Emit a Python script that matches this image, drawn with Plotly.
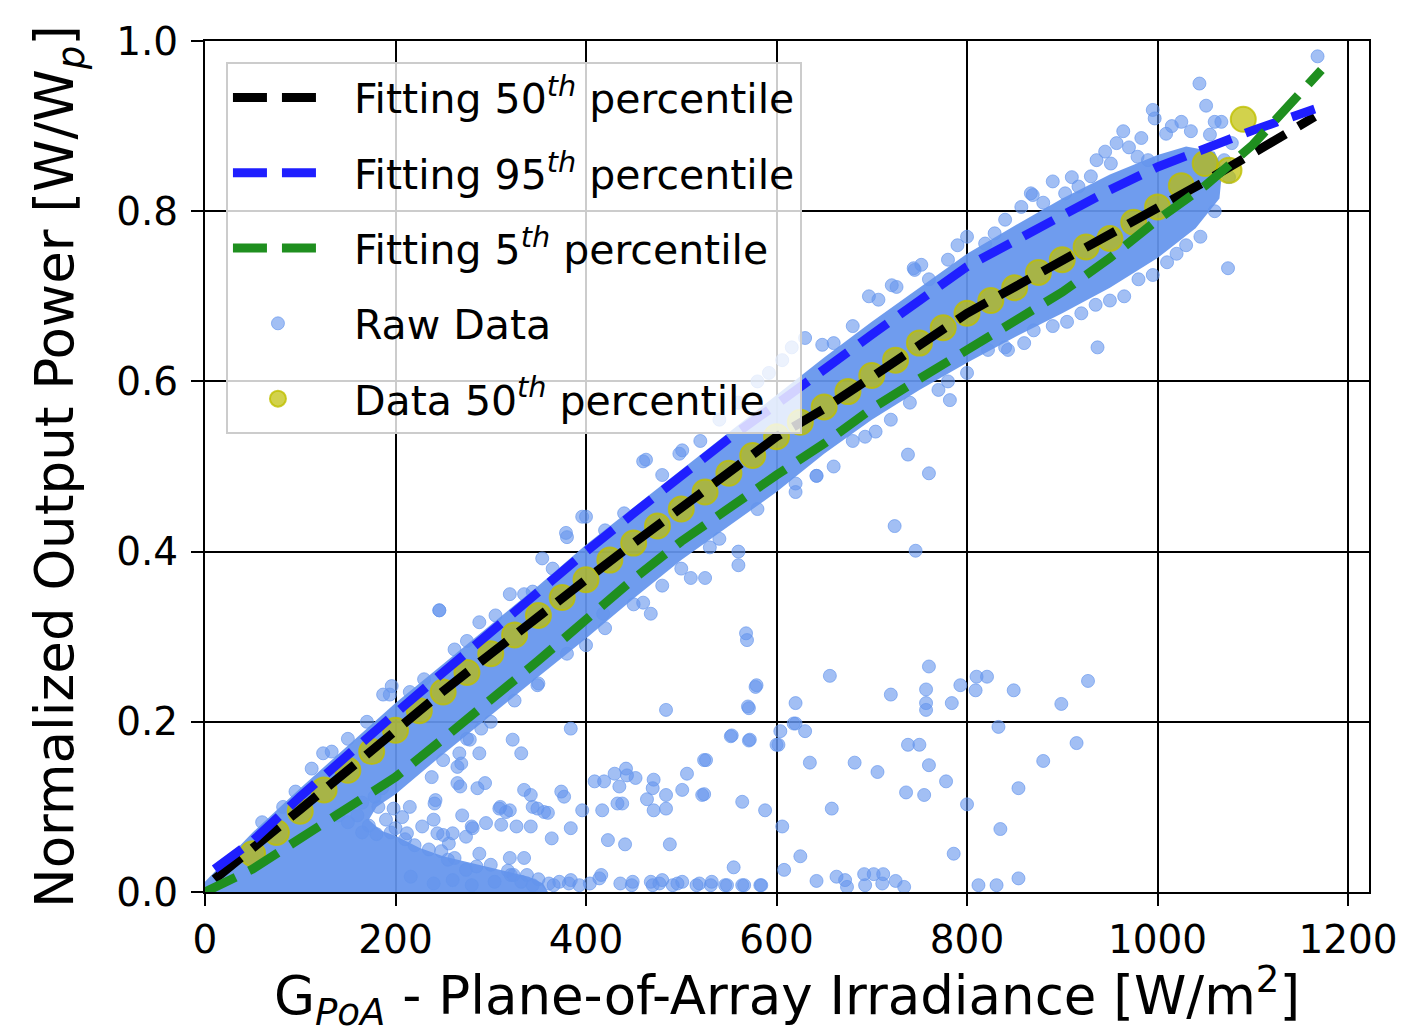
import plotly.graph_objects as go

# ---------------- data ----------------
# fitted curves
fit_x = [10, 50, 100, 150, 200, 250, 300, 350, 400, 450, 500, 550, 600, 650, 700, 750, 800,
         850, 900, 950, 1000, 1050, 1100, 1165]
fit50_y = [0.015, 0.05, 0.097, 0.143, 0.19, 0.236, 0.28, 0.325, 0.367, 0.41, 0.45, 0.493, 0.535,
           0.568, 0.605, 0.643, 0.68, 0.711, 0.742, 0.772, 0.802, 0.835, 0.868, 0.911]
fit95_y = [0.027, 0.06, 0.112, 0.162, 0.21, 0.258, 0.305, 0.355, 0.40, 0.445, 0.49, 0.533, 0.573,
           0.615, 0.655, 0.695, 0.735, 0.765, 0.795, 0.825, 0.852, 0.874, 0.895, 0.92]
fit5_x = [0, 50, 100, 150, 200, 250, 300, 350, 400, 450, 500, 550, 600, 650, 700, 750, 800,
          850, 900, 950, 1000, 1050, 1100, 1172]
fit5_y = [0.0, 0.027, 0.063, 0.098, 0.135, 0.18, 0.225, 0.272, 0.32, 0.368, 0.412, 0.452, 0.49,
          0.527, 0.568, 0.603, 0.637, 0.668, 0.705, 0.745, 0.79, 0.83, 0.878, 0.966]

# binned 50th percentile of the data
p50_x = [50, 75, 100, 125, 150, 175, 200, 225, 250, 275, 300, 325, 350, 375, 400, 425, 450, 475,
         500, 525, 550, 575, 600, 625, 650, 675, 700, 725, 750, 775, 800, 825, 850, 875, 900, 925,
         950, 975, 1000, 1025, 1050, 1075, 1090]
p50_y = [0.045, 0.07, 0.095, 0.12, 0.143, 0.165, 0.19, 0.213, 0.235, 0.258, 0.28, 0.302, 0.325,
         0.346, 0.367, 0.39, 0.41, 0.43, 0.45, 0.47, 0.492, 0.513, 0.535, 0.552, 0.57, 0.588, 0.607,
         0.625, 0.645, 0.663, 0.68, 0.695, 0.71, 0.728, 0.743, 0.758, 0.768, 0.787, 0.805, 0.83,
         0.856, 0.848, 0.908]

# dense core of the raw-data cloud (outline of the saturated area)
core_top_x = [0, 20, 50, 100, 150, 200, 250, 300, 350, 400, 450, 500, 550, 600, 650, 700, 750,
              800, 850, 900, 950, 1000, 1030, 1060, 1068]
core_top_y = [0.012, 0.035, 0.07, 0.122, 0.172, 0.222, 0.268, 0.314, 0.36, 0.408, 0.452, 0.497,
              0.54, 0.585, 0.628, 0.67, 0.71, 0.75, 0.783, 0.815, 0.843, 0.866, 0.876, 0.87, 0.85]
core_bot_x = [1065, 1040, 1000, 950, 900, 850, 800, 750, 700, 650, 600, 550, 500, 450, 400, 350,
              300, 250, 200, 180, 172, 185, 200, 225, 250, 280, 310, 340, 355, 360, 0]
core_bot_y = [0.815, 0.78, 0.745, 0.71, 0.68, 0.652, 0.622, 0.59, 0.555, 0.515, 0.47, 0.43, 0.39,
              0.345, 0.298, 0.253, 0.208, 0.162, 0.115, 0.1, 0.085, 0.072, 0.066, 0.052, 0.042,
              0.034, 0.026, 0.018, 0.01, 0.0, 0.0]

# individual raw points: upper fringe of the cloud
upper_x = [60, 82, 95, 112, 124, 133, 150, 170, 187, 194, 196, 215, 230, 246, 262, 275, 288, 305,
           320, 335, 344, 354, 365, 379, 380, 396, 400, 420, 440, 460, 463, 480, 498, 501, 520,
           540, 560, 580, 592, 606, 616, 630, 648, 660, 680, 697, 707, 721, 726, 744, 745, 752,
           760, 780, 790, 800, 819, 829, 840, 857, 867, 869, 880, 890, 903, 910, 917, 930, 936,
           945, 951, 957, 964, 970, 979, 983, 990, 995, 997, 1009, 1015, 1025, 1035, 1044, 1051,
           1055, 1060, 1067, 1078, 1168]
upper_y = [0.082, 0.10, 0.118, 0.145, 0.163, 0.165, 0.18, 0.2, 0.232, 0.232, 0.242, 0.235, 0.25,
           0.331, 0.285, 0.295, 0.317, 0.325, 0.35, 0.35, 0.353, 0.392, 0.38, 0.422, 0.417, 0.441,
           0.441, 0.425, 0.445, 0.506, 0.508, 0.49, 0.515, 0.519, 0.53, 0.555, 0.575, 0.60, 0.61,
           0.625, 0.64, 0.651, 0.643, 0.645, 0.665, 0.70, 0.696, 0.713, 0.711, 0.733, 0.731,
           0.737, 0.72, 0.743, 0.76, 0.77, 0.762, 0.774, 0.79, 0.805, 0.821, 0.819, 0.81, 0.835,
           0.821, 0.84, 0.829, 0.841, 0.86, 0.87, 0.856, 0.88, 0.894, 0.875, 0.864, 0.886, 0.86,
           0.919, 0.909, 0.891, 0.9, 0.905, 0.894, 0.95, 0.924, 0.89, 0.905, 0.905, 0.88, 0.982]

# lower fringe of the cloud
lower_x = [250, 275, 300, 325, 350, 380, 400, 420, 450, 460, 480, 500, 510, 525, 530, 540, 560,
           560, 580, 620, 620, 642, 660, 680, 693, 704, 720, 740, 770, 780, 800, 822, 840, 843,
           860, 870, 890, 905, 920, 935, 950, 965, 980, 995, 1010, 1020, 1030, 1045, 1060, 1075,
           1070]
lower_y = [0.155, 0.18, 0.2, 0.225, 0.245, 0.28, 0.29, 0.31, 0.338, 0.34, 0.36, 0.38, 0.369,
           0.369, 0.405, 0.415, 0.384, 0.40, 0.45, 0.47, 0.48, 0.489, 0.5, 0.53, 0.535, 0.541,
           0.555, 0.575, 0.59, 0.6, 0.61, 0.637, 0.64, 0.637, 0.645, 0.66, 0.665, 0.67, 0.68,
           0.69, 0.695, 0.7, 0.72, 0.725, 0.74, 0.75, 0.76, 0.77, 0.80, 0.84, 0.86]

# scattered low-output points below the cloud
low_x = [160, 172, 182, 190, 178, 198, 207, 215, 186, 165, 200, 212, 228, 240, 244, 256, 242,
         238, 241, 265, 269, 268, 270, 280, 288, 286, 294, 288, 290, 278, 267, 265, 295, 310,
         320, 309, 316, 311, 327, 342, 281, 250, 260, 274, 320, 335, 255, 274, 321, 332, 323,
         332, 335, 342, 344, 356, 349, 360, 364, 374, 377, 384, 384, 396, 349, 246,
         150, 140, 165, 180, 195, 210, 220, 235, 248, 262, 285, 300, 318, 338, 350,
         409, 419, 430, 442, 452, 435, 443, 471, 470, 484, 501, 524, 464, 471, 484, 417, 433,
         438, 423, 441, 488, 484, 553, 526, 506, 555, 608, 564, 588, 606, 522, 524, 572, 600,
         618, 570, 578, 568, 468, 418,
         569, 579, 571, 552, 571, 625, 656, 620, 620, 630, 604, 602, 635, 682, 706, 658, 720,
         760, 757, 757, 757, 784, 793, 738, 750, 760, 778, 736, 755, 800, 786, 810, 821, 809,
         849, 833, 854, 835, 880, 899, 927, 915, 738, 760, 642, 724, 746, 782, 937, 1074]
low_y = [0.09, 0.078, 0.10, 0.085, 0.112, 0.098, 0.088, 0.10, 0.122, 0.105, 0.075, 0.069, 0.077,
         0.085, 0.069, 0.057, 0.108, 0.135, 0.104, 0.128, 0.151, 0.124, 0.09, 0.077, 0.045,
         0.122, 0.128, 0.163, 0.192, 0.179, 0.163, 0.147, 0.081, 0.10, 0.096, 0.098, 0.094,
         0.079, 0.077, 0.077, 0.075, 0.067, 0.069, 0.065, 0.04, 0.04, 0.038, 0.026, 0.02, 0.012,
         0.179, 0.163, 0.12, 0.114, 0.10, 0.094, 0.098, 0.093, 0.063, 0.118, 0.112, 0.075,
         0.192, 0.096, 0.243, 0.331,
         0.082, 0.09, 0.07, 0.068, 0.07, 0.062, 0.055, 0.05, 0.048, 0.04, 0.03, 0.032, 0.025,
         0.02, 0.015,
         0.13, 0.13, 0.139, 0.145, 0.134, 0.124, 0.137, 0.132, 0.122, 0.114, 0.12, 0.115, 0.109,
         0.096, 0.098, 0.096, 0.104, 0.104, 0.061, 0.056, 0.056, 0.214, 0.184, 0.155, 0.139,
         0.029, 0.026, 0.106, 0.096, 0.077, 0.114, 0.155, 0.179, 0.173, 0.198, 0.218, 0.241,
         0.304, 0.327, 0.327,
         0.296, 0.243, 0.216, 0.183, 0.178, 0.042, 0.254, 0.222, 0.198, 0.189, 0.189, 0.173,
         0.152, 0.152, 0.141, 0.098, 0.232, 0.265, 0.238, 0.222, 0.214, 0.222, 0.243, 0.173,
         0.173, 0.149, 0.13, 0.117, 0.114, 0.103, 0.045, 0.253, 0.253, 0.237, 0.237, 0.194,
         0.122, 0.074, 0.154, 0.221, 0.248, 0.175, 0.514, 0.492, 0.489, 0.43, 0.401, 0.578,
         0.64, 0.733]

# near-zero output points along the x axis
zero_x = [216, 240, 260, 280, 304, 324, 344, 361, 366, 372, 382, 384, 393, 404, 414, 416, 436,
          448, 449, 468, 470, 477, 480, 491, 496, 501, 516, 519, 531, 532, 546, 548, 564, 566,
          583, 584, 642, 663, 672, 674, 692, 693, 702, 711, 712, 725, 734, 812, 831, 854]
zero_y = [0.018, 0.01, 0.014, 0.008, 0.012, 0.02, 0.008, 0.01, 0.008, 0.012, 0.01, 0.014, 0.008,
          0.01, 0.016, 0.02, 0.01, 0.008, 0.012, 0.012, 0.008, 0.01, 0.014, 0.008, 0.01, 0.012,
          0.008, 0.01, 0.008, 0.012, 0.008, 0.008, 0.008, 0.008, 0.008, 0.008, 0.013, 0.018,
          0.014, 0.006, 0.021, 0.008, 0.021, 0.01, 0.021, 0.013, 0.006, 0.008, 0.008, 0.016]

x_ticks = [0, 200, 400, 600, 800, 1000, 1200]
y_ticks = [0.0, 0.2, 0.4, 0.6, 0.8, 1.0]

# ---------------- styles ----------------
FONT = "DejaVu Sans"
RAW = "rgba(100,149,237,0.6)"
YEL = "rgba(191,191,0,0.7)"
LW = 9
DASH = "34px,15px"
PAD = "  "  # gap between legend symbol and label

fig = go.Figure()

# dense core of the cloud
fig.add_trace(go.Scatter(
    x=core_top_x + core_bot_x, y=core_top_y + core_bot_y,
    mode="lines", fill="toself", fillcolor="rgba(100,149,237,0.93)",
    line=dict(width=0, color="rgba(100,149,237,0)"), hoverinfo="skip", showlegend=False))

raw_x = upper_x + lower_x + low_x + zero_x
raw_y = upper_y + lower_y + low_y + zero_y
fig.add_trace(go.Scatter(
    x=raw_x, y=raw_y, mode="markers", name=PAD + "Raw Data",
    marker=dict(size=13, color=RAW, line=dict(width=1, color="rgba(100,149,237,0.65)")),
    legendgroup="g4", legendrank=4))

fig.add_trace(go.Scatter(
    x=p50_x, y=p50_y, mode="markers", name=PAD + "Data 50<sup><i>th</i></sup> percentile",
    marker=dict(size=25, color=YEL, line=dict(width=2, color="rgba(191,191,0,0.8)")),
    legendgroup="g5", legendrank=5))

fig.add_trace(go.Scatter(
    x=fit_x, y=fit50_y, mode="lines", name=PAD + "Fitting 50<sup><i>th</i></sup> percentile",
    line=dict(color="black", width=LW, dash=DASH), legendgroup="g1", legendrank=1))
fig.add_trace(go.Scatter(
    x=fit_x, y=fit95_y, mode="lines", name=PAD + "Fitting 95<sup><i>th</i></sup> percentile",
    line=dict(color="#1f1fff", width=LW, dash=DASH), legendgroup="g2", legendrank=2))
fig.add_trace(go.Scatter(
    x=fit5_x, y=fit5_y, mode="lines", name=PAD + "Fitting 5<sup><i>th</i></sup> percentile",
    line=dict(color="#1f8f1f", width=LW, dash=DASH), legendgroup="g3", legendrank=3))

axis_common = dict(
    showline=True, linecolor="black", linewidth=2, mirror=True,
    showgrid=True, gridcolor="black", gridwidth=2,
    ticks="outside", ticklen=12, tickwidth=2, tickcolor="black",
    tickfont=dict(family=FONT, size=39, color="black"),
    zeroline=False,
)

fig.update_layout(
    width=1410, height=1034,
    margin=dict(l=205, r=38, t=41, b=142),
    paper_bgcolor="white", plot_bgcolor="white",
    font=dict(family=FONT, color="black"),
    xaxis=dict(range=[0, 1222], tickvals=x_ticks, ticktext=[str(v) for v in x_ticks],
               title=dict(text="G<sub><i>PoA</i></sub> - Plane-of-Array Irradiance [W/m<sup>2</sup>]",
                          font=dict(family=FONT, size=53, color="black"), standoff=20),
               **axis_common),
    yaxis=dict(range=[0, 1.0], tickvals=y_ticks, ticktext=[f"{v:.1f}" for v in y_ticks],
               ticklabelstandoff=5,
               title=dict(text="Normalized Output Power [W/W<sub><i>p</i></sub>]",
                          font=dict(family=FONT, size=53, color="black"), standoff=26),
               **axis_common),
    legend=dict(x=0.018, y=0.975, xanchor="left", yanchor="top",
                bgcolor="rgba(255,255,255,0.8)", bordercolor="#cccccc", borderwidth=2,
                font=dict(family=FONT, size=41, color="black"),
                traceorder="grouped", tracegroupgap=19, itemwidth=90, itemsizing="trace"),
    showlegend=True,
)

fig.write_html("out.html")
